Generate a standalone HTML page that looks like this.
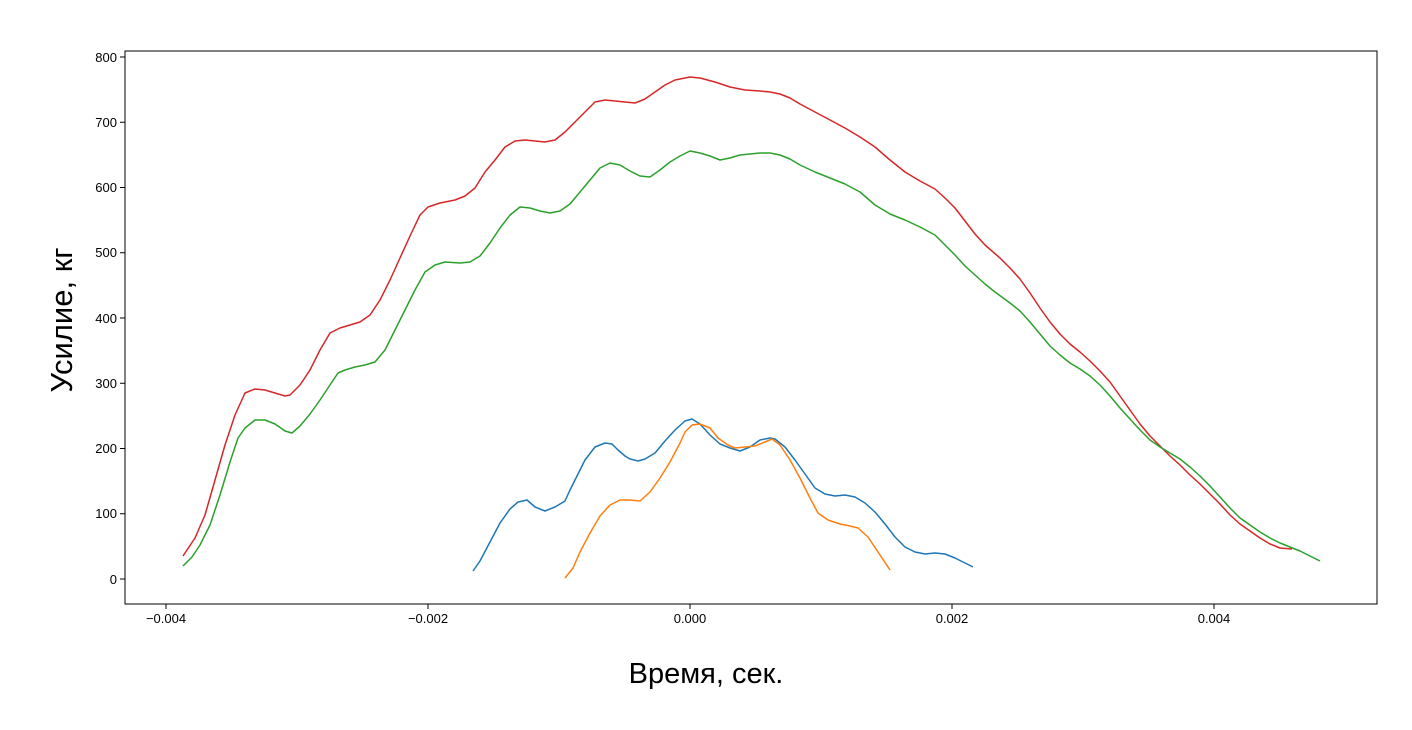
<!DOCTYPE html>
<html><head><meta charset="utf-8"><style>
html,body{margin:0;padding:0;background:#fff;}
svg text{font-family:"Liberation Sans","DejaVu Sans",sans-serif;fill:#000;}
</style></head><body>
<svg width="1412" height="725" xmlns="http://www.w3.org/2000/svg">
<rect x="0" y="0" width="1412" height="725" fill="#fff"/>
<rect x="125" y="51" width="1252" height="553" fill="none" stroke="#000" stroke-width="1"/>
<g stroke="#000" stroke-width="1">
<line x1="120" y1="579" x2="125" y2="579"/><line x1="120" y1="513.75" x2="125" y2="513.75"/>
<line x1="120" y1="448.5" x2="125" y2="448.5"/><line x1="120" y1="383.25" x2="125" y2="383.25"/>
<line x1="120" y1="318" x2="125" y2="318"/><line x1="120" y1="252.75" x2="125" y2="252.75"/>
<line x1="120" y1="187.5" x2="125" y2="187.5"/><line x1="120" y1="122.25" x2="125" y2="122.25"/>
<line x1="120" y1="57" x2="125" y2="57"/>
<line x1="166" y1="604" x2="166" y2="609"/><line x1="428" y1="604" x2="428" y2="609"/>
<line x1="690" y1="604" x2="690" y2="609"/><line x1="952" y1="604" x2="952" y2="609"/>
<line x1="1214" y1="604" x2="1214" y2="609"/>
</g>
<g font-size="13" text-anchor="end">
<text x="117" y="584">0</text><text x="117" y="518">100</text><text x="117" y="453">200</text>
<text x="117" y="388">300</text><text x="117" y="323">400</text><text x="117" y="257">500</text>
<text x="117" y="192">600</text><text x="117" y="127">700</text><text x="117" y="62">800</text>
</g>
<g font-size="13" text-anchor="middle">
<text x="166" y="623">−0.004</text><text x="428" y="623">−0.002</text><text x="690" y="623">0.000</text>
<text x="952" y="623">0.002</text><text x="1214" y="623">0.004</text>
</g>
<text x="706" y="683" font-size="29" text-anchor="middle">Время, сек.</text>
<text transform="translate(72,320) rotate(-90)" font-size="31" text-anchor="middle">Усилие, кг</text>
<g fill="none" stroke-width="1.5" stroke-linejoin="round">
<polyline stroke="#d62728" points="183,556 195,538 205,515 215,480 225,445 235,415 245,393 255,389 265,390 275,393 285,396 290,395 300,385 310,370 320,350 330,333 340,328 350,325 360,322 370,315 380,300 390,280 400,258 410,236 420,215 428,207 440,203 455,200 465,196 475,188 485,172 495,160 505,147 515,141 525,140 535,141 545,142 555,140 565,132 575,122 585,112 595,102 605,100 615,101 625,102 635,103 645,99 655,92 665,85 675,80 690,77 700,78 715,82 730,87 745,90 760,91 770,92 780,94 790,98 800,104 815,112 830,120 845,128 860,137 875,147 890,160 905,172 920,181 935,189 945,198 955,208 965,221 975,234 985,245 1000,258 1010,268 1020,279 1030,293 1040,308 1050,322 1060,334 1070,344 1080,352 1090,361 1100,371 1110,382 1120,396 1130,410 1140,424 1150,436 1160,446 1170,456 1180,465 1190,475 1200,484 1210,494 1220,504 1230,515 1240,524 1250,531 1260,538 1270,544 1280,548 1292,549"/>
<polyline stroke="#2ca02c" points="183,566 192,557 200,545 210,525 220,495 230,462 238,438 245,428 255,420 265,420 275,424 285,431 292,433 300,426 310,414 320,400 330,385 338,373 345,370 355,367 365,365 375,362 385,350 395,330 405,310 415,290 425,272 435,265 445,262 460,263 470,262 480,256 490,243 500,228 510,215 520,207 530,208 540,211 550,213 560,211 570,204 580,192 590,180 600,168 610,163 620,165 630,171 640,176 650,177 660,170 670,162 680,156 690,151 700,153 710,156 720,160 730,158 740,155 750,154 760,153 770,153 780,155 790,159 800,165 815,172 830,178 845,184 860,192 875,205 890,214 905,220 920,227 935,235 945,245 955,255 965,266 975,275 985,284 995,292 1010,303 1020,311 1030,322 1040,334 1050,346 1060,355 1070,363 1080,369 1090,376 1100,385 1110,396 1120,408 1130,419 1140,430 1150,440 1160,447 1170,453 1180,459 1190,467 1200,476 1210,486 1220,497 1230,508 1240,518 1250,525 1260,532 1270,538 1280,543 1290,547 1300,551 1310,556 1320,561"/>
<polyline stroke="#1f77b4" points="473,571 480,561 490,542 500,523 510,509 518,502 527,500 535,507 545,511 555,507 565,501 570,490 576,478 585,460 595,447 605,443 612,444 618,450 625,456 630,459 638,461 645,459 655,453 665,441 675,430 685,421 692,419 700,424 710,435 720,444 730,448 740,451 750,447 760,440 770,438 775,439 785,447 795,460 805,474 815,488 825,494 835,496 845,495 855,497 865,503 875,512 885,524 895,537 905,547 915,552 925,554 935,553 945,554 955,558 965,563 973,567"/>
<polyline stroke="#ff7f0e" points="565,578 573,568 580,552 590,533 600,516 610,505 620,500 630,500 640,501 650,492 660,478 670,462 680,443 685,432 692,425 700,424 710,428 718,438 728,445 735,448 745,447 755,446 765,442 772,439 780,445 790,460 800,478 810,498 818,513 828,520 840,524 850,526 858,528 868,537 878,552 890,570"/>
</g>
</svg>
</body></html>
